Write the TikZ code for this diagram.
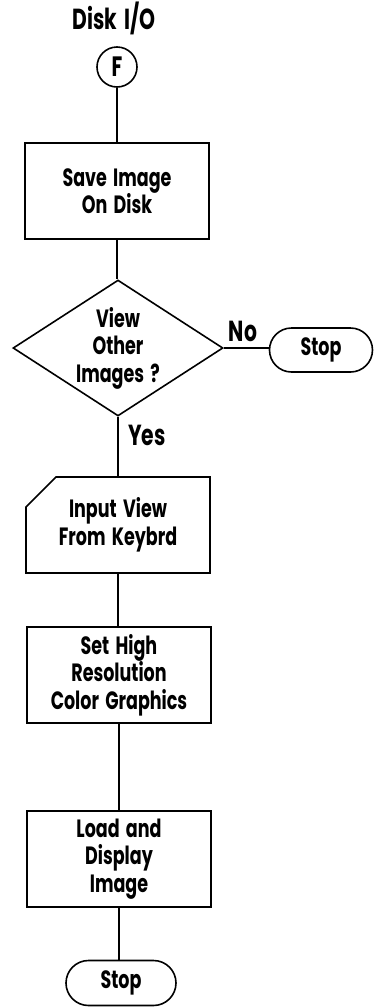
\documentclass[tikz,border=0pt]{standalone}
\usepackage{fontspec}
\setmainfont{Poppins}[FakeStretch=0.7, WordSpace=1.7]
\usetikzlibrary{shapes.geometric,shapes.misc}
\begin{document}
\begin{tikzpicture}[x=1pt,y=-1pt,
  every node/.style={font=\fontsize{25}{27.5}\selectfont\bfseries, align=center, inner sep=0pt},
  big/.style={font=\fontsize{29}{30}\selectfont\bfseries},
  conn/.style={line width=1.5pt},
  proc/.style={draw, line width=1.6pt, minimum width=184pt, minimum height=96pt},
  inbox/.style={draw, line width=1.6pt, chamfered rectangle, chamfered rectangle corners=north west,
     chamfered rectangle xsep=15pt, chamfered rectangle ysep=15pt, minimum width=184pt, minimum height=96pt},
  decide/.style={draw, line width=1.6pt, diamond, minimum width=210pt, minimum height=136pt},
  term/.style={draw, line width=1.6pt, rounded rectangle, minimum height=44pt},
  conncirc/.style={draw, line width=1.6pt, circle, minimum size=40pt, font=\fontsize{28}{30}\selectfont\bfseries}]
\useasboundingbox (0,0) rectangle (373,1007);
\node[big] (title) at (114,18) {Disk I/O};
\node[conncirc] (F) at (117,67) {F};
\node[proc] (save) at (117,191) {Save Image\\On Disk};
\node[decide] (view) at (118,348) {};
\node (viewtext) at (view) {View\\Other\\Images ?};
\node[term, minimum width=103pt] (stop1) at (321,350) {Stop};
\node[inbox] (input) at (118,525) {Input View\\From Keybrd};
\node[proc] (set) at (119,675) {Set High\\Resolution\\Color Graphics};
\node[proc] (load) at (119,859) {Load and\\Display\\Image};
\node[term, minimum width=110pt, minimum height=45pt] (stop2) at (121,983) {Stop};
\node[big] (no) at (243,331) {No};
\node[big] (yes) at (147,435) {Yes};
\draw[conn] (F.south) -- (F.south |- save.north);
\draw[conn] (save.south) -- (save.south |- view.north);
\draw[conn] (view.east) -- (view.east -| stop1.west);
\draw[conn] (view.south) -- (view.south |- input.north);
\draw[conn] (input.south) -- (input.south |- set.north);
\draw[conn] (set.south) -- (set.south |- load.north);
\draw[conn] (load.south) -- (load.south |- stop2.north);
\end{tikzpicture}
\end{document}
